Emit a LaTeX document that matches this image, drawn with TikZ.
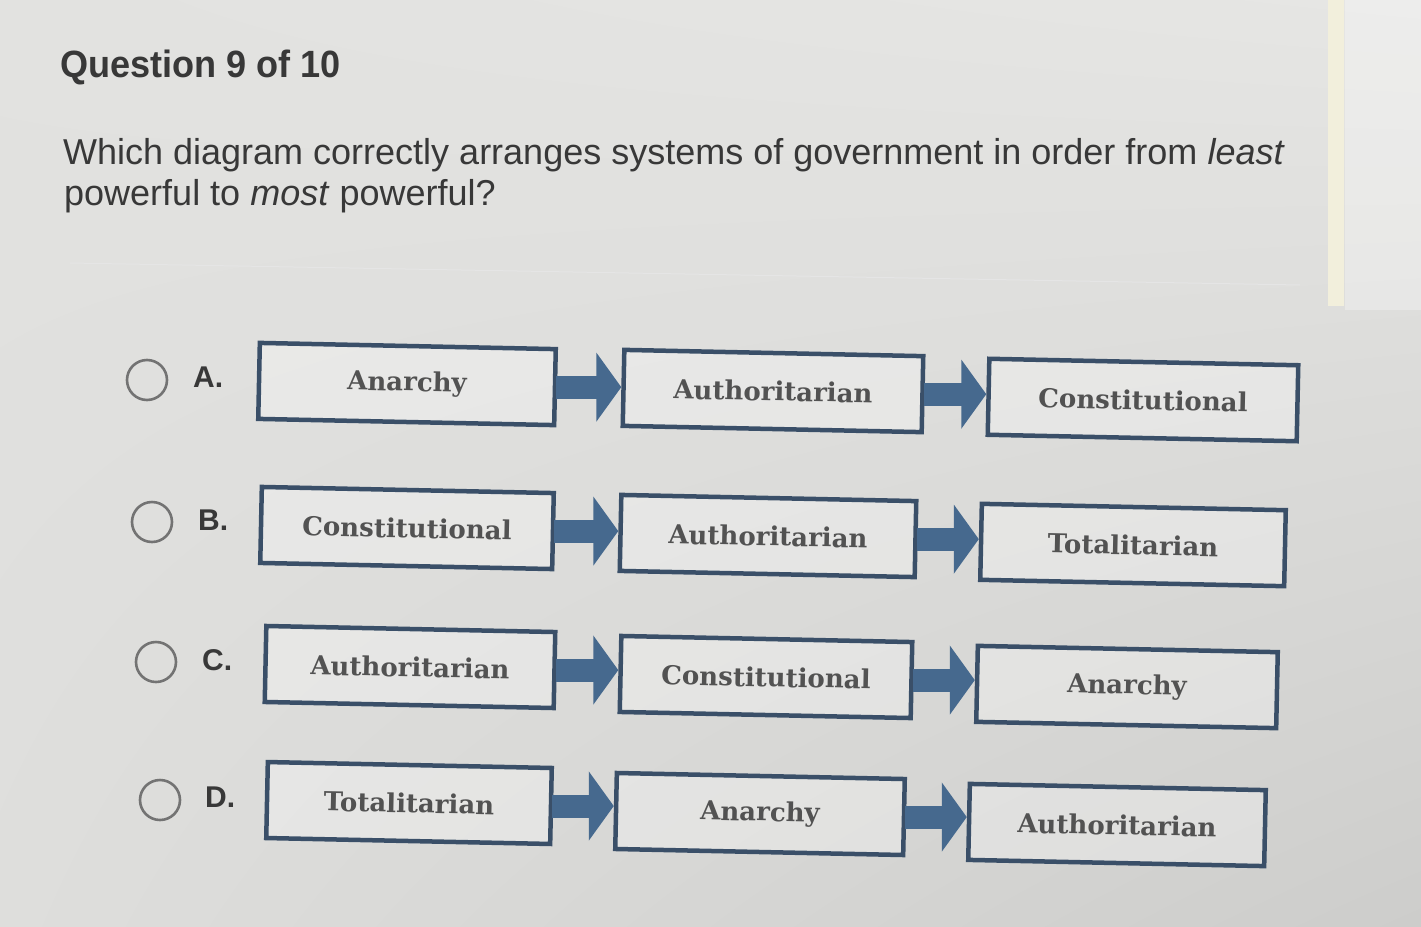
\documentclass[tikz,border=0pt]{standalone}
\usepackage{fontspec}
\setmainfont{Liberation Sans}
\newfontfamily\slab{DejaVu Serif}
\usetikzlibrary{arrows.meta,shadings}
\definecolor{bg}{HTML}{E2E2E0}
\definecolor{bgul}{HTML}{E2E2E0}
\definecolor{bgur}{HTML}{E6E6E4}
\definecolor{bgll}{HTML}{DEDEDC}
\definecolor{bglr}{HTML}{CDCDCB}
\definecolor{boxline}{HTML}{3A4F68}
\definecolor{arrowfill}{HTML}{46698E}
\definecolor{txt}{HTML}{383838}
\definecolor{boxtxt}{HTML}{525252}
\definecolor{strip}{HTML}{F2EFDC}
\tikzset{
  govbox/.style={draw=boxline, line width=4.5pt, fill=white, fill opacity=0.3, text opacity=1, draw opacity=1, minimum width=#1, minimum height=76pt,
     inner sep=0pt, font=\slab\bfseries\fontsize{26}{28}\selectfont, text=boxtxt, rotate=-1.2},
  govbox/.default=296pt,
  flow/.style={draw=arrowfill, line width=23pt, -{Triangle[length=25pt,width=68pt]}, shorten <=-1pt},
  radio/.style={draw=black!55, line width=2.6pt, circle, minimum size=40pt, inner sep=0pt},
  optlabel/.style={font=\bfseries\fontsize{30}{32}\selectfont, text=txt, anchor=west, inner sep=0pt},
}
\begin{document}
\begin{tikzpicture}[x=1pt,y=-1pt]
\shade[upper left=bgul, upper right=bgur, lower left=bgll, lower right=bglr] (0,0) rectangle (1421,926);
\useasboundingbox (0,0) rectangle (1421,926);
% screen edge strip
\fill[white, opacity=0.3] (1345,0) rectangle (1421,310);
\fill[strip] (1328,0) rectangle (1344,306);
\draw[black!10, line width=1pt] (70,263) -- (1300,285);
% title and question
\node[anchor=base west, inner sep=0pt, text=txt] (title) at (60,77)
  {\scalebox{0.95}[1]{\bfseries\fontsize{38}{40}\selectfont Question 9 of 10}};
\node[anchor=base west, inner sep=0pt, text=txt] (q1) at (63,164)
  {\fontsize{36}{40}\selectfont Which diagram correctly arranges systems of government in order from \textit{least}};
\node[anchor=base west, inner sep=0pt, text=txt] (q2) at (64,205)
  {\fontsize{36}{40}\selectfont powerful to \textit{most} powerful?};
% Row A
\node[radio] (ra) at (147,380) {};
\node[optlabel] (la) at (193,377) {A.};
\node[govbox=296pt] (a1) at (407,384) {Anarchy};
\node[govbox=299pt] (a2) at (773,391) {Authoritarian};
\node[govbox=309pt] (a3) at (1143,400) {Constitutional};
\draw[flow] (a1.east) -- (a1.east -| a2.west);
\draw[flow] (a2.east) -- (a2.east -| a3.west);
% Row B
\node[radio] (rb) at (152,522) {};
\node[optlabel] (lb) at (198,520) {B.};
\node[govbox=292pt] (b1) at (407,528) {Constitutional};
\node[govbox=295pt] (b2) at (768,536) {Authoritarian};
\node[govbox=304pt] (b3) at (1133,545) {Totalitarian};
\draw[flow] (b1.east) -- (b1.east -| b2.west);
\draw[flow] (b2.east) -- (b2.east -| b3.west);
% Row C
\node[radio] (rc) at (156,662) {};
\node[optlabel] (lc) at (202,660) {C.};
\node[govbox=289pt] (c1) at (410,667) {Authoritarian};
\node[govbox=291pt] (c2) at (766,677) {Constitutional};
\node[govbox=300pt] (c3) at (1127,687) {Anarchy};
\draw[flow] (c1.east) -- (c1.east -| c2.west);
\draw[flow] (c2.east) -- (c2.east -| c3.west);
% Row D
\node[radio] (rd) at (160,800) {};
\node[optlabel] (ld) at (205,797) {D.};
\node[govbox=284pt] (d1) at (409,803) {Totalitarian};
\node[govbox=288pt] (d2) at (760,814) {Anarchy};
\node[govbox=296pt] (d3) at (1117,825) {Authoritarian};
\draw[flow] (d1.east) -- (d1.east -| d2.west);
\draw[flow] (d2.east) -- (d2.east -| d3.west);
\end{tikzpicture}
\end{document}
